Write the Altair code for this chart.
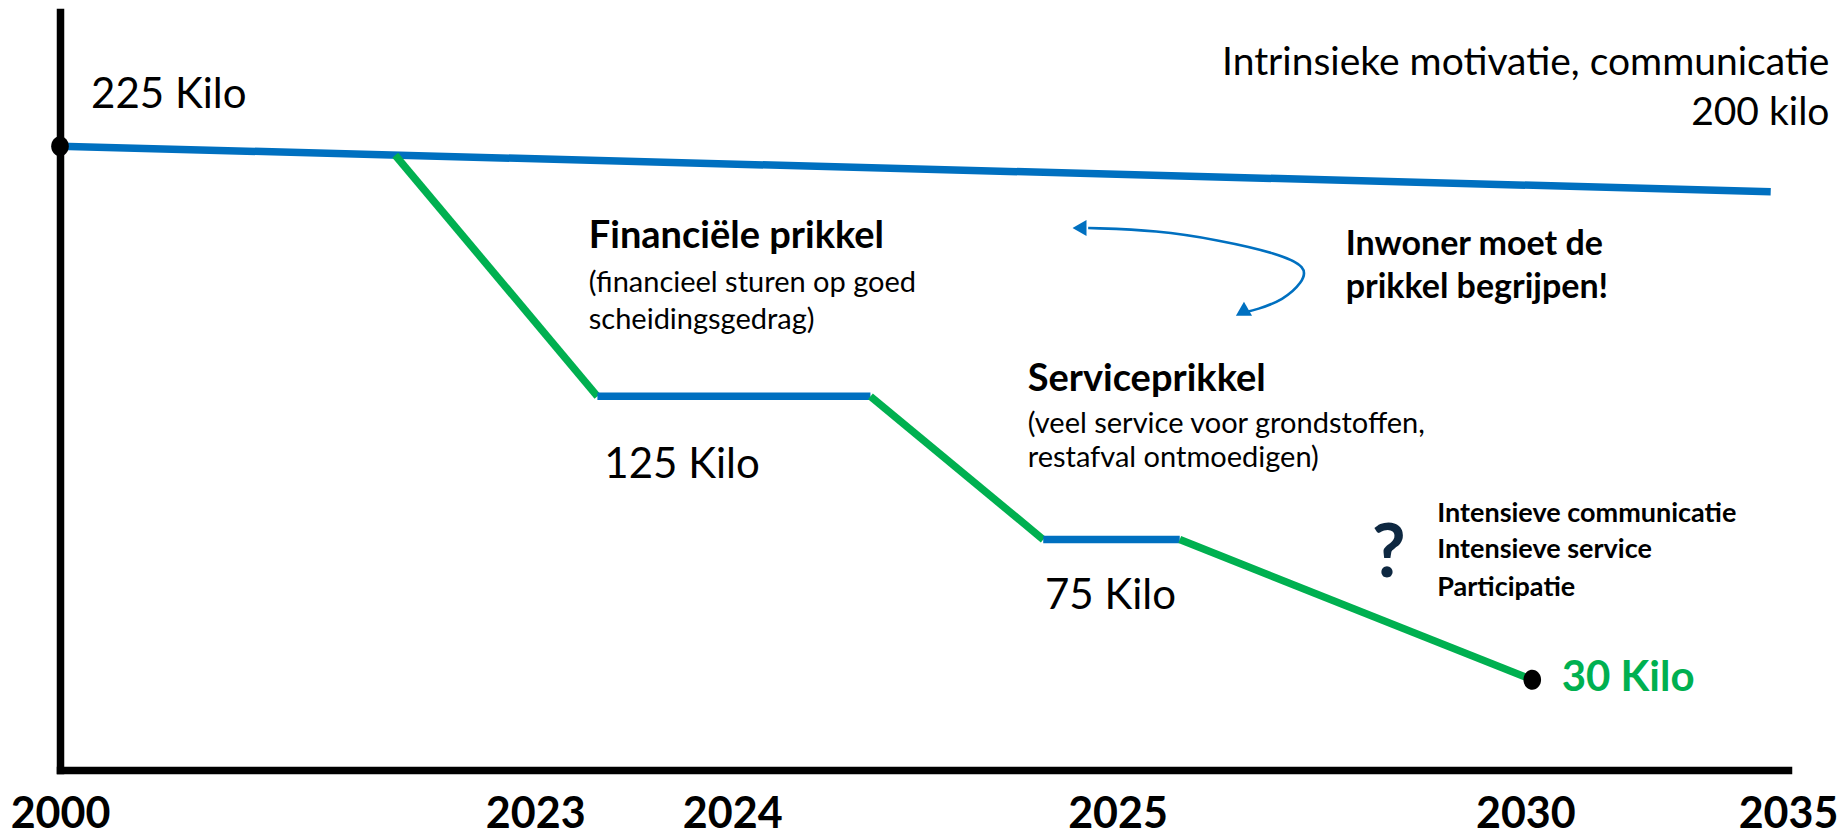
import altair as alt
import pandas as pd

# ---------------- data (schematic units: x 0-100 timeline, y 0-100 level) -------------
jaar_labels = ["2000", "2023", "2024", "2025", "2030", "2035"]
jaar_pos = [0, 27.5, 38.9, 61.2, 84.8, 100]

seg_kleur = ["#0070C0", "#00B050", "#0070C0", "#00B050", "#0070C0", "#00B050"]
seg_x_start = [0, 19.4, 31.1, 46.9, 56.9, 64.8]
seg_x_eind = [99, 31.1, 46.9, 56.9, 64.8, 85.2]
seg_y_start = [82.3, 81.1, 49.3, 49.3, 30.4, 30.4]
seg_y_eind = [76.3, 49.3, 49.3, 30.4, 30.4, 11.9]

punt_x = [0, 85.2]
punt_y = [82.3, 11.9]

pijl_x = [59.5, 63.5, 67.1, 70.4, 72.2, 71.9, 70.8, 69.2, 68.6]
pijl_y = [71.5, 71.2, 69.9, 68.2, 66.4, 64.3, 62.0, 60.7, 60.4]
pijlpunt_x = [59.0, 68.4]
pijlpunt_y = [71.5, 60.4]
pijlpunt_hoek = [0, 330]

kilo_tekst = ["225 Kilo", "125 Kilo", "75 Kilo"]
kilo_x = [1.8, 31.5, 57.0]
kilo_y = [89.1, 40.3, 22.9]

rechts_tekst = ["Intrinsieke motivatie, communicatie", "200 kilo"]
rechts_x = [102.4, 102.4]
rechts_y = [93.3, 86.7]

kop_tekst = ["Financiële prikkel", "Serviceprikkel"]
kop_x = [30.6, 56.0]
kop_y = [70.3, 51.4]

sub_tekst = ["(financieel sturen op goed", "scheidingsgedrag)",
             "(veel service voor grondstoffen,", "restafval ontmoedigen)"]
sub_x = [30.6, 30.6, 56.0, 56.0]
sub_y = [64.3, 59.4, 45.7, 41.1]

inwoner_tekst = ["Inwoner moet de", "prikkel begrijpen!"]
inwoner_x = [74.4, 74.4]
inwoner_y = [69.3, 63.6]

lijst_tekst = ["Intensieve communicatie", "Intensieve service", "Participatie"]
lijst_x = [79.7, 79.7, 79.7]
lijst_y = [33.8, 29.0, 24.0]

vraag_x = [76.9]
vraag_y = [28.4]

doel_tekst = ["30 Kilo"]
doel_x = [86.9]
doel_y = [12.1]

FONT = "Lato"
W, H = 1728, 758

xs = alt.Scale(domain=[0, 100], nice=False, zero=False)
ys = alt.Scale(domain=[0, 100], nice=False, zero=False)

label_expr = " : ".join(
    f"datum.value == {p} ? '{l}'" for p, l in zip(jaar_pos, jaar_labels)
) + " : ''"

x_axis = alt.Axis(values=jaar_pos, labelExpr=label_expr, ticks=False, grid=False,
                  domainColor="black", domainWidth=7.5, domainCap="square",
                  labelFont=FONT, labelFontWeight="bold", labelFontSize=43,
                  labelColor="black", labelPadding=23, labelFlush=False,
                  labelOverlap=False, labelBound=False, title=None)
y_axis = alt.Axis(labels=False, ticks=False, grid=False, domainColor="black",
                  domainWidth=7.5, domainCap="square", title=None)

seg_df = pd.DataFrame({"kleur": seg_kleur, "x": seg_x_start, "x2": seg_x_eind,
                       "y": seg_y_start, "y2": seg_y_eind})
segs = alt.Chart(seg_df).mark_rule(strokeWidth=7.5, strokeCap="butt").encode(
    x=alt.X("x:Q", scale=xs, axis=x_axis),
    y=alt.Y("y:Q", scale=ys, axis=y_axis),
    x2="x2:Q", y2="y2:Q",
    color=alt.Color("kleur:N", scale=None),
)

punt_df = pd.DataFrame({"x": punt_x, "y": punt_y})
ellipse = "M0,-1A0.88,1 0 1,1 0,1A0.88,1 0 1,1 0,-1Z"
punten = alt.Chart(punt_df).mark_point(filled=True, color="black", opacity=1,
                                       shape=ellipse, size=400).encode(
    x=alt.X("x:Q", scale=xs), y=alt.Y("y:Q", scale=ys))

pijl_df = pd.DataFrame({"x": pijl_x, "y": pijl_y, "i": list(range(len(pijl_x)))})
pijl = alt.Chart(pijl_df).mark_line(color="#0070C0", strokeWidth=2.6,
                                    interpolate="basis").encode(
    x=alt.X("x:Q", scale=xs), y=alt.Y("y:Q", scale=ys), order="i:Q")

pp_df = pd.DataFrame({"x": pijlpunt_x, "y": pijlpunt_y, "hoek": pijlpunt_hoek})
pijlpunten = alt.Chart(pp_df).mark_point(filled=True, color="#0070C0", opacity=1,
                                         shape="triangle-left", size=260).encode(
    x=alt.X("x:Q", scale=xs), y=alt.Y("y:Q", scale=ys),
    angle=alt.Angle("hoek:Q", scale=None))


def tekstlaag(teksten, xs_, ys_, **kw):
    df = pd.DataFrame({"t": teksten, "x": xs_, "y": ys_})
    base = dict(font=FONT, baseline="middle", align="left", color="black")
    base.update(kw)
    return alt.Chart(df).mark_text(**base).encode(
        x=alt.X("x:Q", scale=xs), y=alt.Y("y:Q", scale=ys), text="t:N")


lagen = [
    segs, pijl, pijlpunten, punten,
    tekstlaag(kilo_tekst, kilo_x, kilo_y, fontSize=42),
    tekstlaag(rechts_tekst, rechts_x, rechts_y, fontSize=39, align="right"),
    tekstlaag(kop_tekst, kop_x, kop_y, fontSize=38, fontWeight="bold"),
    tekstlaag(sub_tekst, sub_x, sub_y, fontSize=29),
    tekstlaag(inwoner_tekst, inwoner_x, inwoner_y, fontSize=34, fontWeight="bold"),
    tekstlaag(lijst_tekst, lijst_x, lijst_y, fontSize=27, fontWeight="bold"),
    tekstlaag(["?"], vraag_x, vraag_y, fontSize=74, fontWeight="bold",
              align="center", color="#0E2841"),
    tekstlaag(doel_tekst, doel_x, doel_y, fontSize=42, fontWeight="bold",
              color="#00B050"),
]

chart = alt.layer(*lagen).properties(
    width=W, height=H,
    padding={"left": 60, "top": 12, "right": 56, "bottom": 68},
    autosize=alt.AutoSizeParams(type="none"),
).configure_view(stroke=None)

chart.save("out.html", embed_options={"renderer": "svg", "actions": False})
